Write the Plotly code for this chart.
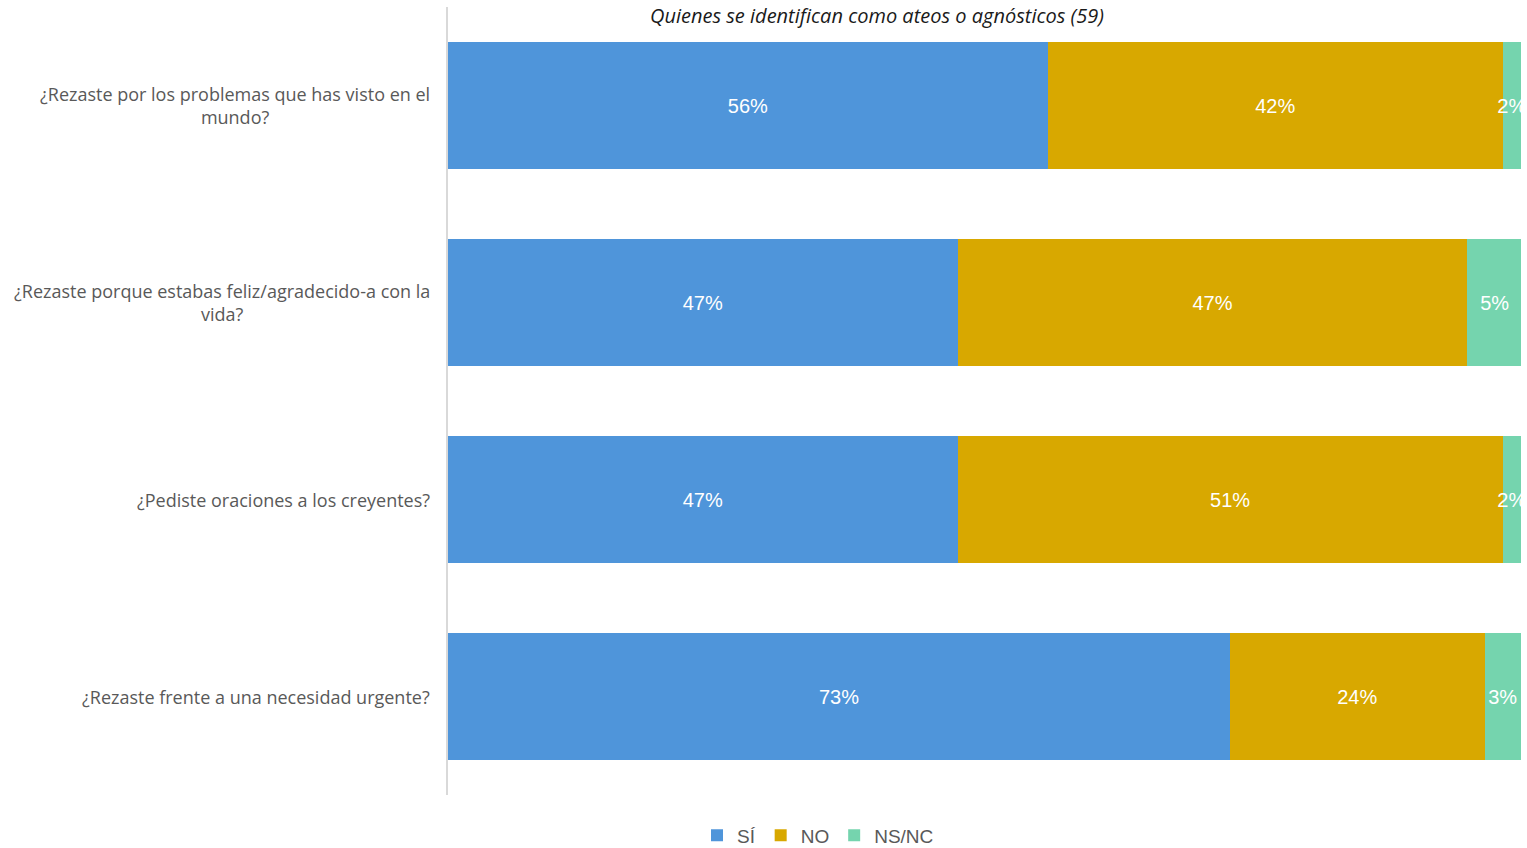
import plotly.graph_objects as go

categories = [
    "¿Rezaste por los problemas que has visto en el<br>mundo?",
    "¿Rezaste porque estabas feliz/agradecido-a con la<br>vida?",
    "¿Pediste oraciones a los creyentes?",
    "¿Rezaste frente a una necesidad urgente?",
]
series_names = ["SÍ", "NO", "NS/NC"]
si_values = [55.9, 47.5, 47.5, 72.9]
no_values = [42.4, 47.5, 50.8, 23.7]
nsnc_values = [1.7, 5.1, 1.7, 3.4]
si_labels = ["56%", "47%", "47%", "73%"]
no_labels = ["42%", "47%", "51%", "24%"]
nsnc_labels = ["2%", "5%", "2%", "3%"]
title_text = "Quienes se identifican como ateos o agnósticos (59)"

colors = ["#4F95DA", "#D8A800", "#75D4AE"]
label_font = "'Open Sans', sans-serif"
num_font = "'Liberation Sans', Arial, sans-serif"

fig = go.Figure()
for name, vals, labels, col in zip(series_names,
                                   [si_values, no_values, nsnc_values],
                                   [si_labels, no_labels, nsnc_labels],
                                   colors):
    fig.add_trace(go.Bar(
        y=categories, x=vals, name=name, orientation="h",
        marker=dict(color=col, line=dict(width=0)),
        text=labels, textposition="inside", insidetextanchor="middle",
        textangle=0,
        textfont=dict(color="white", size=20, family=num_font),
        constraintext="none", cliponaxis=True, hoverinfo="skip",
    ))

for cat in categories:
    fig.add_annotation(
        x=0, xref="paper", y=cat, yref="y", xanchor="right", xshift=-16,
        text=cat, showarrow=False, align="center",
        font=dict(size=18, color="#595959", family=label_font),
    )

fig.add_annotation(
    x=(877 - 448) / (1521 - 448), xref="paper", y=1, yref="paper",
    text="<i>" + title_text + "</i>",
    showarrow=False, font=dict(size=20, color="#1a1a1a", family=label_font),
    yanchor="top", yshift=7,
)

fig.update_layout(
    barmode="stack", bargap=0.355,
    width=1527, height=848,
    margin=dict(l=448, r=6, t=7, b=53, autoexpand=False),
    plot_bgcolor="white", paper_bgcolor="white",
    showlegend=True,
    legend=dict(orientation="h", x=(818 - 448) / (1521 - 448), xanchor="center",
                y=-0.027, yanchor="top",
                font=dict(size=19, color="#595959", family=num_font),
                itemwidth=30, traceorder="normal", itemclick=False),
)
fig.update_xaxes(range=[0, 100], showgrid=False, showticklabels=False,
                 zeroline=False, showline=False, fixedrange=True)
fig.update_yaxes(autorange="reversed", showticklabels=False, showgrid=False,
                 showline=True, linecolor="#D9D9D9", linewidth=2, ticks="",
                 zeroline=False, fixedrange=True)

fig.write_html("out.html", config={"displayModeBar": False},
               post_script="document.body.style.margin='0';")
